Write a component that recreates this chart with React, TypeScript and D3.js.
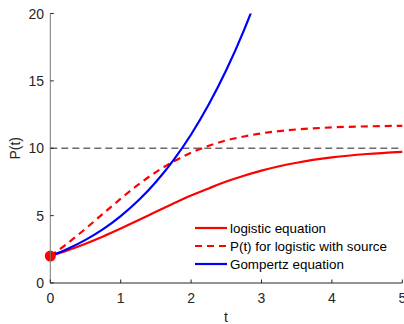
import React from "react";
import * as d3 from "d3";

const tValues = [0, 0.25, 0.5, 0.75, 1, 1.25, 1.5, 1.75, 2, 2.25, 2.5, 2.75, 3, 3.5, 4, 4.5, 5];
const logistic = [2, 2.43, 2.919, 3.459, 4.046, 4.66, 5.284, 5.899, 6.488, 7.02, 7.528, 7.96, 8.339, 8.922, 9.317, 9.575, 9.738];
const logisticSource = [2, 2.963, 4.029, 5.147, 6.257, 7.3, 8.23, 9.022, 9.671, 10.186, 10.583, 10.87, 11.108, 11.395, 11.546, 11.625, 11.665];
const gompT = [0, 0.25, 0.5, 0.75, 1, 1.25, 1.5, 1.75, 2, 2.25, 2.5, 2.75, 2.85];
const gompertz = [2, 2.54, 3.2, 4.0, 4.97, 6.12, 7.5, 9.12, 11.02, 13.24, 15.8, 18.75, 20.05];
const carrying = 10;
const xTicks = [0, 1, 2, 3, 4, 5];
const yTicks = [0, 5, 10, 15, 20];
const legendLabels = ["logistic equation", "P(t) for logistic with source", "Gompertz equation"];

export default function App() {
  const W = 404, H = 324;
  const x = d3.scaleLinear().domain([0, 5]).range([50.3, 402.3]);
  const y = d3.scaleLinear().domain([0, 20]).range([283, 13.5]);
  const line = d3.line<[number, number]>().x(d => x(d[0])).y(d => y(d[1])).curve(d3.curveMonotoneX);
  const lp = line(tValues.map((t, i) => [t, logistic[i]]))!;
  const sp = line(tValues.map((t, i) => [t, logisticSource[i]]))!;
  const gp = line(gompT.map((t, i) => [t, gompertz[i]]))!;
  const font = "Liberation Sans, Arial, sans-serif";
  const legendStyles = [
    { stroke: "#ff0000", dash: undefined },
    { stroke: "#ff0000", dash: "7,5" },
    { stroke: "#0000ff", dash: undefined },
  ];
  return (
    <svg width={W} height={H} style={{ position: "absolute", left: 0, top: 0 }} fontFamily={font}>
      <defs>
        <clipPath id="plot">
          <rect x={x(0)} y={y(20)} width={x(5) - x(0) + 2} height={y(0) - y(20)} />
        </clipPath>
      </defs>
      <rect width={W} height={H} fill="#fff" />
      <line x1={x(0)} x2={x(5)} y1={y(carrying)} y2={y(carrying)} stroke="#6b6b6b" strokeWidth={1.5} strokeDasharray="7,4" />
      <g clipPath="url(#plot)" fill="none" strokeWidth={2.2}>
        <path d={lp} stroke="#ff0000" />
        <path d={sp} stroke="#ff0000" strokeDasharray="7,5" />
        <path d={gp} stroke="#0000ff" />
      </g>
      <circle cx={x(0)} cy={y(2)} r={5.5} fill="#ff0000" />
      <line x1={x(0)} x2={x(0)} y1={y(0)} y2={y(20)} stroke="#7a7a7a" strokeWidth={1} />
      <line x1={x(0)} x2={x(5)} y1={y(0)} y2={y(0)} stroke="#262626" strokeWidth={1} />
      {xTicks.map(t => (
        <g key={"x" + t}>
          <line x1={x(t)} x2={x(t)} y1={y(0)} y2={y(0) - 3.5} stroke="#262626" />
          <text x={x(t)} y={303} textAnchor="middle" fontSize={14} fill="#262626">{t}</text>
        </g>
      ))}
      {yTicks.map(v => (
        <g key={"y" + v}>
          <line x1={x(0)} x2={x(0) + 3.5} y1={y(v)} y2={y(v)} stroke="#262626" />
          <text x={44} y={y(v) + 5} textAnchor="end" fontSize={14} fill="#262626">{v}</text>
        </g>
      ))}
      <text x={226} y={322} textAnchor="middle" fontSize={14} fill="#262626">t</text>
      <text transform={`translate(20,${y(10)}) rotate(-90)`} textAnchor="middle" fontSize={14} fill="#262626">P(t)</text>
      {legendLabels.map((lab, i) => (
        <g key={lab} transform={`translate(0,${228 + i * 18})`}>
          <line x1={195} x2={227} y1={0} y2={0} stroke={legendStyles[i].stroke} strokeWidth={2.2} strokeDasharray={legendStyles[i].dash} />
          <text x={230} y={4.8} fontSize={13.4} fill="#000">{lab}</text>
        </g>
      ))}
    </svg>
  );
}
